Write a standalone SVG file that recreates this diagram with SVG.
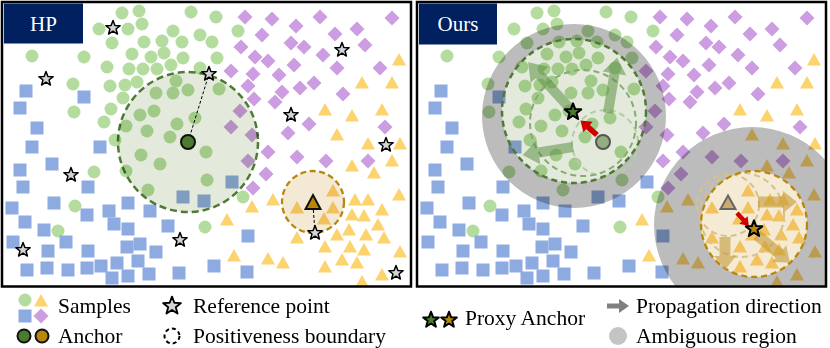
<svg xmlns="http://www.w3.org/2000/svg" xmlns:xlink="http://www.w3.org/1999/xlink" width="830" height="348" viewBox="0 0 830 348">
<style>
.g{fill:#b5dc9f}
.b{fill:#8dabe0}
.p{fill:#cc9ee1}
.y{fill:#fdd36e}
.st{fill:#d4d4d4;stroke:#000;stroke-width:1.5;stroke-linejoin:round}
.mul{mix-blend-mode:multiply}
.frame{fill:none;stroke:#000;stroke-width:2.5}
.title{fill:#002060}
.tt{font-family:"Liberation Serif","Times New Roman",serif;font-size:21px;fill:#fff}
.lg{font-family:"Liberation Serif","Times New Roman",serif;font-size:21.5px;fill:#000}
.ga{fill:#5e8f45;opacity:0.55}
.ya{fill:#c49a3a;opacity:0.6}
.ra{fill:#d00000}
</style>
<defs>
<circle id="c" r="6.5"/>
<rect id="s" x="-6.5" y="-6.5" width="13" height="13"/>
<path id="d" d="M0,-7.5L7.5,0L0,7.5L-7.5,0Z"/>
<path id="t" d="M0,-7L7,5.5L-7,5.5Z"/>
<path id="star" d="M0,-7.5L1.88,-2.59L7.13,-2.32L3.04,0.99L4.41,6.07L0,3.2L-4.41,6.07L-3.04,0.99L-7.13,-2.32L-1.88,-2.59Z"/>
<path id="redarrow" d="M0,-2.8H12V-7L22,0L12,7V2.8H0Z"/>
<clipPath id="clipL"><rect x="3" y="3" width="407" height="283"/></clipPath>
<clipPath id="clipR"><rect x="418" y="3" width="407" height="283"/></clipPath>
<g id="scatter">
<g class="g">
<use href="#c" x="122" y="13"/><use href="#c" x="139" y="11"/><use href="#c" x="191" y="12"/><use href="#c" x="216" y="17"/>
<use href="#c" x="99" y="29"/><use href="#c" x="128" y="29"/><use href="#c" x="142" y="24"/><use href="#c" x="173" y="31"/>
<use href="#c" x="200" y="35"/><use href="#c" x="238" y="31"/><use href="#c" x="112" y="43"/><use href="#c" x="144" y="42"/>
<use href="#c" x="162" y="41"/><use href="#c" x="182" y="42"/><use href="#c" x="212" y="42"/><use href="#c" x="32" y="56"/>
<use href="#c" x="84" y="57"/><use href="#c" x="132" y="54"/><use href="#c" x="151" y="57"/><use href="#c" x="164" y="53"/>
<use href="#c" x="183" y="58"/><use href="#c" x="217" y="58"/><use href="#c" x="107" y="67"/><use href="#c" x="129" y="69"/>
<use href="#c" x="143" y="69"/><use href="#c" x="157" y="69"/><use href="#c" x="171" y="65"/><use href="#c" x="200" y="68"/>
<use href="#c" x="73" y="84"/><use href="#c" x="110" y="86"/><use href="#c" x="125" y="85"/><use href="#c" x="137" y="82"/>
<use href="#c" x="176" y="81"/><use href="#c" x="219" y="89"/><use href="#c" x="123" y="98"/><use href="#c" x="156" y="93"/>
<use href="#c" x="173" y="93"/><use href="#c" x="188" y="90"/><use href="#c" x="74" y="112"/><use href="#c" x="111" y="109"/>
<use href="#c" x="140" y="115"/><use href="#c" x="154" y="111"/><use href="#c" x="104" y="122"/><use href="#c" x="126" y="126"/>
<use href="#c" x="147" y="131"/><use href="#c" x="177" y="124"/><use href="#c" x="195" y="118"/><use href="#c" x="115" y="140"/>
<use href="#c" x="170" y="137"/><use href="#c" x="141" y="155"/><use href="#c" x="160" y="164"/><use href="#c" x="126" y="171"/>
<use href="#c" x="148" y="190"/><use href="#c" x="207" y="180"/><use href="#c" x="206" y="152"/><use href="#c" x="94" y="172"/>
<use href="#c" x="75" y="206"/><use href="#c" x="58" y="231"/><use href="#c" x="205" y="227"/><use href="#c" x="243" y="197"/>
</g>
<g class="b">
<use href="#s" x="26" y="91"/><use href="#s" x="84" y="97"/><use href="#s" x="20" y="108"/><use href="#s" x="37" y="128"/>
<use href="#s" x="32" y="147"/><use href="#s" x="100" y="147"/><use href="#s" x="52" y="164"/><use href="#s" x="20" y="170"/>
<use href="#s" x="23" y="187"/><use href="#s" x="88" y="187"/><use href="#s" x="12" y="208"/><use href="#s" x="54" y="203"/>
<use href="#s" x="128" y="203"/><use href="#s" x="87" y="215"/><use href="#s" x="109" y="211"/><use href="#s" x="150" y="211"/>
<use href="#s" x="183" y="197"/><use href="#s" x="204" y="201"/><use href="#s" x="232" y="182"/><use href="#s" x="25" y="222"/>
<use href="#s" x="44" y="230"/><use href="#s" x="114" y="224"/><use href="#s" x="128" y="229"/><use href="#s" x="168" y="226"/>
<use href="#s" x="13" y="242"/><use href="#s" x="66" y="242"/><use href="#s" x="48" y="251"/><use href="#s" x="88" y="251"/>
<use href="#s" x="127" y="247"/><use href="#s" x="140" y="244"/><use href="#s" x="156" y="252"/><use href="#s" x="27" y="270"/>
<use href="#s" x="47" y="268"/><use href="#s" x="68" y="270"/><use href="#s" x="87" y="268"/><use href="#s" x="101" y="266"/>
<use href="#s" x="117" y="263"/><use href="#s" x="138" y="261"/><use href="#s" x="149" y="274"/><use href="#s" x="128" y="276"/>
<use href="#s" x="112" y="278"/><use href="#s" x="179" y="273"/><use href="#s" x="248" y="236"/><use href="#s" x="214" y="266"/>
<use href="#s" x="247" y="272"/>
</g>
<g class="p">
<use href="#d" x="245" y="17"/><use href="#d" x="272" y="19"/><use href="#d" x="320" y="17"/><use href="#d" x="392" y="18"/>
<use href="#d" x="296" y="26"/><use href="#d" x="262" y="35"/><use href="#d" x="335" y="34"/><use href="#d" x="357" y="29"/>
<use href="#d" x="241" y="47"/><use href="#d" x="291" y="43"/><use href="#d" x="304" y="47"/><use href="#d" x="365" y="45"/>
<use href="#d" x="255" y="57"/><use href="#d" x="268" y="61"/><use href="#d" x="323" y="55"/><use href="#d" x="231" y="71"/>
<use href="#d" x="294" y="65"/><use href="#d" x="337" y="68"/><use href="#d" x="380" y="68"/><use href="#d" x="253" y="74"/>
<use href="#d" x="279" y="75"/><use href="#d" x="248" y="86"/><use href="#d" x="314" y="83"/><use href="#d" x="300" y="88"/>
<use href="#d" x="282" y="92"/><use href="#d" x="343" y="94"/><use href="#d" x="254" y="99"/><use href="#d" x="275" y="102"/>
<use href="#d" x="240" y="111"/><use href="#d" x="385" y="127"/><use href="#d" x="231" y="127"/><use href="#d" x="252" y="135"/>
<use href="#d" x="288" y="133"/><use href="#d" x="309" y="124"/><use href="#d" x="268" y="152"/><use href="#d" x="297" y="157"/>
<use href="#d" x="326" y="161"/><use href="#d" x="368" y="161"/><use href="#d" x="248" y="161"/><use href="#d" x="266" y="174"/>
<use href="#d" x="253" y="188"/>
</g>
<g class="y">
<use href="#t" x="399" y="60"/><use href="#t" x="362" y="83"/><use href="#t" x="392" y="83"/><use href="#t" x="325" y="110"/>
<use href="#t" x="352" y="116"/><use href="#t" x="382" y="110"/><use href="#t" x="337" y="135"/><use href="#t" x="368" y="144"/>
<use href="#t" x="400" y="144"/><use href="#t" x="352" y="166"/><use href="#t" x="392" y="161"/><use href="#t" x="374" y="173"/>
<use href="#t" x="273" y="200"/><use href="#t" x="252" y="207"/><use href="#t" x="333" y="191"/><use href="#t" x="297" y="208"/>
<use href="#t" x="333" y="208"/><use href="#t" x="324" y="219"/><use href="#t" x="355" y="200"/><use href="#t" x="368" y="200"/>
<use href="#t" x="399" y="195"/><use href="#t" x="382" y="210"/><use href="#t" x="352" y="215"/><use href="#t" x="364" y="216"/>
<use href="#t" x="227" y="220"/><use href="#t" x="378" y="225"/><use href="#t" x="349" y="230"/><use href="#t" x="337" y="235"/>
<use href="#t" x="366" y="235"/><use href="#t" x="297" y="238"/><use href="#t" x="384" y="238"/><use href="#t" x="325" y="247"/>
<use href="#t" x="350" y="247"/><use href="#t" x="364" y="250"/><use href="#t" x="400" y="252"/><use href="#t" x="234" y="256"/>
<use href="#t" x="268" y="259"/><use href="#t" x="283" y="263"/><use href="#t" x="342" y="260"/><use href="#t" x="357" y="263"/>
<use href="#t" x="325" y="267"/><use href="#t" x="382" y="275"/><use href="#t" x="362" y="282"/>
</g>
</g>
</defs>
<rect x="0" y="0" width="830" height="348" fill="#fff"/>

<!-- Left panel: HP -->
<g id="panel-hp" clip-path="url(#clipL)">
<use href="#scatter"/>
<circle class="mul" cx="188" cy="142" r="70" fill="#e3eadb" stroke="#4f7a35" stroke-width="2.5" stroke-dasharray="7 4"/>
<circle class="mul" cx="313" cy="202" r="31" fill="#f3e9d4" stroke="#b8860b" stroke-width="2.3" stroke-dasharray="6 3.5"/>
<g id="ref-lines" fill="none" stroke="#000" stroke-width="1" stroke-dasharray="3 2">
<line x1="188" y1="142" x2="209" y2="74"/>
<line x1="313" y1="205" x2="315" y2="233"/>
</g>
<g id="ref-points">
<use class="st" href="#star" x="113" y="28"/><use class="st" href="#star" x="46" y="79"/>
<use class="st" href="#star" x="209" y="74"/><use class="st" href="#star" x="342" y="50"/>
<use class="st" href="#star" x="291" y="115"/><use class="st" href="#star" x="386" y="145"/>
<use class="st" href="#star" x="71" y="175"/><use class="st" href="#star" x="23" y="250"/>
<use class="st" href="#star" x="180" y="240"/><use class="st" href="#star" x="315" y="233"/>
<use class="st" href="#star" x="396" y="273"/>
</g>
<circle id="anchor-green" cx="188" cy="142" r="7" fill="#4b7b2f" stroke="#111" stroke-width="2"/>
<path id="anchor-gold" d="M313,195L320.5,209L305.5,209Z" fill="#b8860b" stroke="#111" stroke-width="2"/>
</g>
<rect class="frame" x="2" y="2" width="409" height="284.5"/>
<g id="title-hp">
<rect class="title" x="4" y="3.5" width="79" height="40"/>
<text class="tt" x="43.5" y="31" text-anchor="middle">HP</text>
</g>

<!-- Right panel: Ours -->
<g id="panel-ours" clip-path="url(#clipR)">
<use href="#scatter" x="415"/>
<path class="mul" fill="#bcbcbc" fill-rule="evenodd" d="M482,116a92,92 0 1,0 184,0a92,92 0 1,0 -184,0ZM502,111a72,72 0 1,0 144,0a72,72 0 1,0 -144,0Z"/>
<path class="mul" fill="#bcbcbc" fill-rule="evenodd" d="M654,225a98,98 0 1,0 196,0a98,98 0 1,0 -196,0ZM701,224a53,53 0 1,0 106,0a53,53 0 1,0 -106,0Z"/>
<circle class="mul" cx="574" cy="111" r="72" fill="#e3eadb"/>
<circle class="mul" cx="754" cy="224" r="53" fill="#f5ebd5"/>
<g fill="none" stroke-dasharray="6 4" stroke-width="2">
<circle cx="605" cy="143" r="33" stroke="#b3cea5"/>
<circle cx="583" cy="123" r="53" stroke="#86ab72"/>
<circle cx="574" cy="111" r="72" stroke="#4f7a35" stroke-width="2.5"/>
<circle cx="728" cy="205" r="31" stroke="#d6c08c"/>
<circle cx="742" cy="215" r="42" stroke="#d6c08c"/>
<circle cx="754" cy="224" r="53" stroke="#b8860b" stroke-width="2.3"/>
</g>
<circle id="old-anchor-green" cx="603" cy="142" r="7" fill="#93ad80" stroke="#555" stroke-width="2"/>
<path id="old-anchor-gold" d="M728,195.5L735.5,209L720.5,209Z" fill="#c9ab6c" stroke="#666" stroke-width="2"/>
<g id="propagation">
<path class="ga" transform="translate(573,112) rotate(-132)" d="M0,-5H50V-12L67,0L50,12V5H0Z"/>
<path class="ga" transform="translate(608,113) rotate(-80.7)" d="M0,-5H40V-12L56,0L40,12V5H0Z"/>
<path class="ga" transform="translate(573,147) rotate(171)" d="M0,-5H35V-12L51,0L35,12V5H0Z"/>
<path class="ya" transform="translate(758,202) rotate(0)" d="M0,-5.5H25V-11L39,0L25,11V5.5H0Z"/>
<path class="ya" transform="translate(757,235) rotate(40)" d="M0,-5.5H29V-11L43,0L29,11V5.5H0Z"/>
<path class="ya" transform="translate(725,237) rotate(90)" d="M0,-5.5H19V-11L33,0L19,11V5.5H0Z"/>
</g>
<use class="ra" href="#redarrow" transform="translate(597,135) rotate(221.4)"/>
<use class="ra" href="#redarrow" transform="translate(737,213) rotate(47.5) scale(0.8)"/>
<use href="#star" transform="translate(573,112) scale(1.15)" fill="#4b7b2f" stroke="#000" stroke-width="1.8" stroke-linejoin="round"/>
<use href="#star" transform="translate(754,229) scale(1.15)" fill="#b8860b" stroke="#000" stroke-width="1.8" stroke-linejoin="round"/>
</g>
<rect class="frame" x="417" y="2" width="409" height="284.5"/>
<g id="title-ours">
<rect class="title" x="419" y="3.5" width="78" height="41"/>
<text class="tt" x="458" y="31" text-anchor="middle">Ours</text>
</g>

<!-- Legend -->
<g id="legend">
<g id="lg-samples">
<use class="g" href="#c" x="25" y="300"/>
<use class="y" href="#t" x="41" y="301"/>
<use class="b" href="#s" x="25" y="316"/>
<use class="p" href="#d" x="41" y="316"/>
<text class="lg" x="58" y="313">Samples</text>
</g>
<g id="lg-anchor">
<circle cx="24" cy="336" r="6.5" fill="#4b7b2f" stroke="#111" stroke-width="2"/>
<circle cx="42" cy="336" r="6.5" fill="#b8860b" stroke="#111" stroke-width="2"/>
<text class="lg" x="58" y="343">Anchor</text>
</g>
<g id="lg-ref">
<use class="st" href="#star" transform="translate(172,306) scale(1.25)"/>
<text class="lg" x="193" y="313">Reference point</text>
</g>
<g id="lg-boundary">
<circle cx="172" cy="336" r="7.5" fill="none" stroke="#000" stroke-width="2" stroke-dasharray="4 3"/>
<text class="lg" x="193" y="343">Positiveness boundary</text>
</g>
<g id="lg-proxy">
<use href="#star" transform="translate(431,320) scale(1.1)" fill="#4b7b2f" stroke="#000" stroke-width="1.8" stroke-linejoin="round"/>
<use href="#star" transform="translate(449,320) scale(1.1)" fill="#b8860b" stroke="#000" stroke-width="1.8" stroke-linejoin="round"/>
<text class="lg" x="465" y="325">Proxy Anchor</text>
</g>
<g id="lg-prop">
<path d="M607,303.5H619V299L629,306L619,313V308.5H607Z" fill="#808080"/>
<text class="lg" x="636" y="313">Propagation direction</text>
</g>
<g id="lg-amb">
<circle cx="618" cy="336" r="9" fill="#c4c4c4"/>
<text class="lg" x="636" y="343">Ambiguous region</text>
</g>
</g>
</svg>
